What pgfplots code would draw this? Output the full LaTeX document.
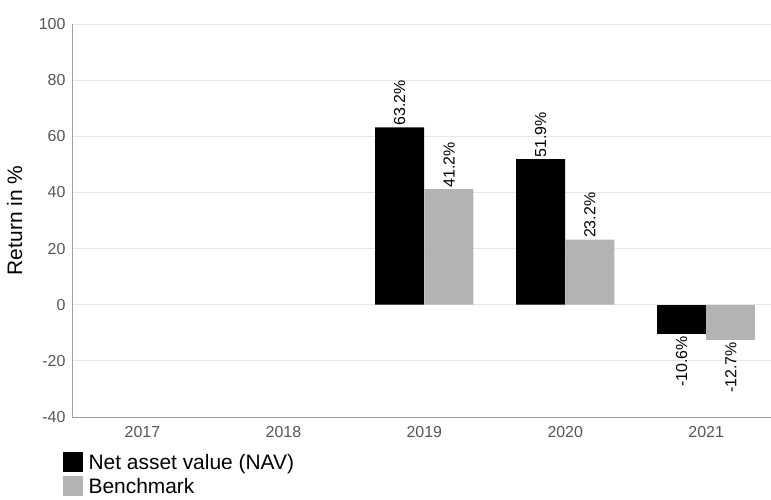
\documentclass[border=0pt]{standalone}
\usepackage{fontspec}
\setmainfont{Liberation Sans}
\usepackage{pgfplots}
\pgfplotsset{compat=1.18}
\definecolor{navc}{HTML}{000000}
\definecolor{benchc}{HTML}{B3B3B3}
\definecolor{tickc}{HTML}{555555}
\definecolor{gridc}{HTML}{E6E6E6}
\definecolor{axc}{HTML}{A0A0A0}
\begin{document}
\begin{tikzpicture}[x=1bp,y=1bp]
\path[use as bounding box] (-72,-83) rectangle (699,417);
\begin{axis}[
    at={(0,0)}, anchor=south west,
    scale only axis,
    width=699bp, height=393bp,
    xmin=-0.5, xmax=4.46,
    ymin=-40, ymax=100,
    xtick={0,1,2,3,4},
    xticklabels={2017,2018,2019,2020,2021},
    ytick={-40,-20,0,20,40,60,80,100},
    ymajorgrids=true,
    grid style={gridc, line width=0.8bp},
    axis x line*=bottom,
    axis y line*=left,
    axis line style={axc, line width=0.8bp},
    major tick length=0pt,
    tick style={draw=none},
    ticklabel style={font=\fontsize{16}{19}\selectfont, text=tickc},
    /pgf/number format/assume math mode=true,
    xticklabel style={yshift=-6bp},
    yticklabel style={xshift=-3bp},
    ylabel={Return in \%},
    ylabel style={font=\fontsize{21}{24}\selectfont, at={(axis description cs:-0.082,0.5)}, anchor=center},
    ybar, bar width=49bp,
    legend style={at={(axis description cs:-0.013,-0.0890)}, anchor=north west, draw=none,
        font=\fontsize{21}{24}\selectfont, cells={anchor=west},
        row sep=4bp, column sep=5bp, inner sep=0pt, nodes={inner sep=0.5bp}},
    legend image code/.code={\fill[#1] (0bp,-10bp) rectangle (20bp,10bp);},
    every node near coord/.append style={font=\fontsize{16}{19}\selectfont, rotate=90, text=black, inner sep=1.5bp},
]
\addplot[fill=navc, draw=none, bar shift=-0.175, nodes near coords={\pgfmathprintnumber[fixed,precision=1,fixed zerofill]{\pgfplotspointmeta}\%}, every node near coord/.append style={anchor=west}]
    coordinates {(2,63.2) (3,51.9)};
\addlegendentry{Net asset value (NAV)}
\addplot[fill=benchc, draw=none, bar shift=0.175, nodes near coords={\pgfmathprintnumber[fixed,precision=1,fixed zerofill]{\pgfplotspointmeta}\%}, every node near coord/.append style={anchor=west}]
    coordinates {(2,41.2) (3,23.2)};
\addlegendentry{Benchmark}
\addplot[fill=navc, draw=none, bar shift=-0.175, forget plot, nodes near coords={\pgfmathprintnumber[fixed,precision=1,fixed zerofill]{\pgfplotspointmeta}\%}, every node near coord/.append style={anchor=east}]
    coordinates {(4,-10.6)};
\addplot[fill=benchc, draw=none, bar shift=0.175, forget plot, nodes near coords={\pgfmathprintnumber[fixed,precision=1,fixed zerofill]{\pgfplotspointmeta}\%}, every node near coord/.append style={anchor=east}]
    coordinates {(4,-12.7)};
\end{axis}
\end{tikzpicture}
\end{document}
